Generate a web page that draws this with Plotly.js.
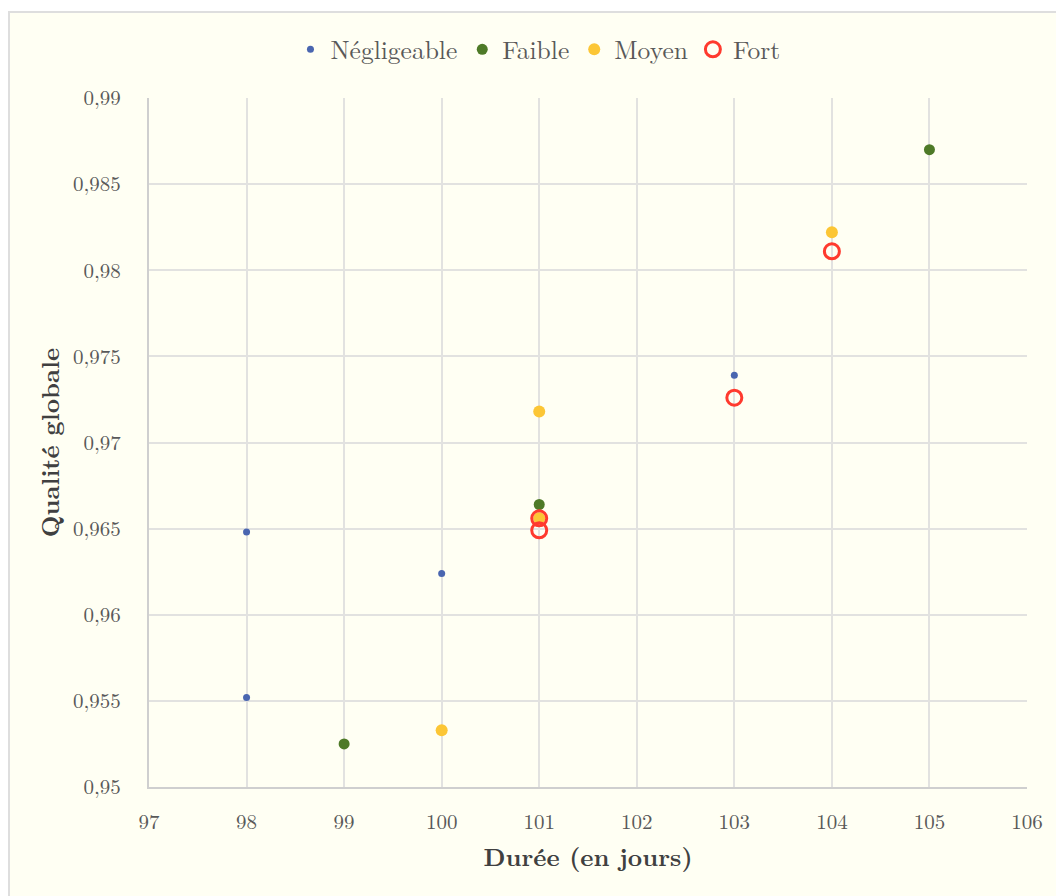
<!DOCTYPE html>
<html>
<head>
<meta charset="utf-8">
<script src="https://cdn.plot.ly/plotly-3.0.1.min.js"></script>
<style>
  html, body { margin: 0; padding: 0; background: #ffffff; overflow: hidden; width: 1056px; height: 896px; }
  #wrap { position: absolute; left: 8px; top: 11px; width: 1070px; height: 900px; border-left: 2px solid #dedede; border-top: 2px solid #dedede; background: #FFFFF3; }
  #chart { width: 1070px; height: 900px; }
</style>
</head>
<body>
<div id="wrap"><div id="chart"></div></div>
<script>
// Data
const negligeableX = [98, 98, 100, 103];
const negligeableY = [0.9648, 0.9552, 0.9624, 0.9739];
const faibleX = [99, 101, 105];
const faibleY = [0.9525, 0.9664, 0.9870];
const moyenX = [100, 101, 101, 104];
const moyenY = [0.9533, 0.9718, 0.9656, 0.9822];
const fortX = [101, 101, 103, 104];
const fortY = [0.9656, 0.9649, 0.9726, 0.9811];

const xTickVals = [97, 98, 99, 100, 101, 102, 103, 104, 105, 106];
const xTickText = ["97", "98", "99", "100", "101", "102", "103", "104", "105", "106"];
const yTickVals = [0.95, 0.955, 0.96, 0.965, 0.97, 0.975, 0.98, 0.985, 0.99];
const yTickText = ["0,95", "0,955", "0,96", "0,965", "0,97", "0,975", "0,98", "0,985", "0,99"];

const FONT = "'Latin Modern Roman', 'CMU Serif', 'Liberation Serif', serif";

const traces = [
  { type: "scatter", mode: "markers", name: "Négligeable", x: negligeableX, y: negligeableY,
    marker: { color: "#4A66B0", size: 7 } },
  { type: "scatter", mode: "markers", name: "Faible", x: faibleX, y: faibleY,
    marker: { color: "#4E7A27", size: 11 } },
  { type: "scatter", mode: "markers", name: "Moyen", x: moyenX, y: moyenY,
    marker: { color: "#FCC635", size: 12 } },
  { type: "scatter", mode: "markers", name: "Fort", x: fortX, y: fortY,
    marker: { color: "#FF3A2E", size: 15, symbol: "circle-open", line: { color: "#FF3A2E", width: 3 } } }
];

const layout = {
  width: 1070, height: 900,
  margin: { l: 139, r: 53, t: 85, b: 126 },
  paper_bgcolor: "#FFFFF3",
  plot_bgcolor: "#FFFFF3",
  font: { family: FONT, size: 21, color: "#595959" },
  showlegend: true,
  legend: {
    orientation: "h", x: 0.443, xanchor: "center", y: 1.07, yanchor: "middle",
    font: { family: FONT, size: 25.5, color: "#595959" },
    bgcolor: "rgba(0,0,0,0)", itemclick: false
  },
  xaxis: {
    range: [97, 106], tickvals: xTickVals, ticktext: xTickText,
    showgrid: true, gridcolor: "#e2e2e0", gridwidth: 2,
    zeroline: false, showline: true, linecolor: "#cfcfcf", linewidth: 2,
    ticks: "", ticklabelstandoff: 15,
    tickfont: { family: FONT, size: 21, color: "#595959" },
    title: { text: "<b>Durée (en jours)</b>", standoff: 14, font: { family: FONT, size: 25, color: "#404040" } }
  },
  yaxis: {
    range: [0.95, 0.99], tickvals: yTickVals, ticktext: yTickText,
    showgrid: true, gridcolor: "#e2e2e0", gridwidth: 2,
    zeroline: false, showline: true, linecolor: "#cfcfcf", linewidth: 2,
    ticks: "", ticklabelstandoff: 22,
    tickfont: { family: FONT, size: 21, color: "#595959" },
    title: { text: "<b>Qualité globale</b>", standoff: 6, font: { family: FONT, size: 25, color: "#404040" } }
  }
};

Plotly.newPlot("chart", traces, layout, { displayModeBar: false, staticPlot: true });
</script>
</body>
</html>
